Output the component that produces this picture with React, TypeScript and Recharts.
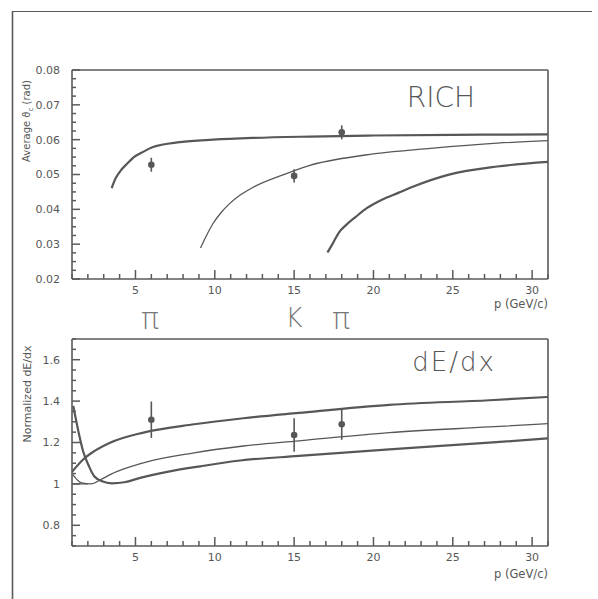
import React from 'react';
import { ComposedChart, Line, Scatter, ErrorBar, XAxis, YAxis } from 'recharts';

// momentum axis (GeV/c)
const pMajorTicks = [5, 10, 15, 20, 25, 30];
const pMinorTicks = Array.from({ length: 31 }, (_, i) => i + 1);

// RICH panel: average Cherenkov angle (rad)
const richMajorTicks = [0.02, 0.03, 0.04, 0.05, 0.06, 0.07, 0.08];
const richMinorTicks = Array.from({ length: 25 }, (_, i) => +(0.02 + i * 0.0025).toFixed(4));

const richPionP = [3.5, 3.75, 4.1, 4.5, 4.9, 5.4, 6.1, 7.8, 9.9, 12.4, 16, 20, 25, 31];
const richPionTheta = [0.0461, 0.0489, 0.0513, 0.0532, 0.055, 0.0563, 0.0579, 0.0593, 0.06, 0.0605, 0.0609, 0.0612, 0.0614, 0.0615];
const richKaonP = [9.1, 9.5, 9.9, 10.4, 10.9, 11.6, 12.4, 14.3, 15.9, 19.5, 23.6, 27.8, 31];
const richKaonTheta = [0.0289, 0.0327, 0.036, 0.0391, 0.0415, 0.0441, 0.0463, 0.0499, 0.0525, 0.0556, 0.0575, 0.059, 0.0597];
const richProtonP = [17.1, 17.45, 17.8, 18.3, 18.9, 19.6, 20.5, 21.6, 22.6, 24.7, 27.8, 31];
const richProtonTheta = [0.0276, 0.0303, 0.0332, 0.0356, 0.0379, 0.0404, 0.0427, 0.0448, 0.0467, 0.0499, 0.0523, 0.0536];

const richDataP = [6, 15, 18];
const richDataTheta = [0.0528, 0.0496, 0.0621];
const richDataErr = [0.002, 0.0019, 0.002];

// dE/dx panel: normalized energy loss
const dedxMajorTicks = [0.8, 1, 1.2, 1.4, 1.6];
const dedxMinorTicks = Array.from({ length: 21 }, (_, i) => +(0.7 + i * 0.05).toFixed(2));

const dedxPionP = [1.0, 1.7, 2.4, 3.4, 5.5, 8.7, 11.8, 15.3, 21, 27.3, 31];
const dedxPionVal = [1.058, 1.118, 1.158, 1.199, 1.248, 1.288, 1.317, 1.343, 1.382, 1.404, 1.42];
const dedxKaonP = [1.05, 1.6, 2.2, 2.8, 3.4, 5.5, 8.7, 11.8, 15.3, 21, 27.3, 31];
const dedxKaonVal = [1.045, 1.005, 1.0, 1.02, 1.045, 1.102, 1.15, 1.183, 1.208, 1.248, 1.275, 1.291];
const dedxProtonP = [1.08, 1.4, 1.7, 2.07, 2.4, 2.9, 3.5, 4.3, 5.3, 7.0, 9.1, 11.6, 15.3, 21, 27.3, 31];
const dedxProtonVal = [1.377, 1.255, 1.158, 1.085, 1.037, 1.013, 1.003, 1.008, 1.029, 1.058, 1.085, 1.113, 1.135, 1.167, 1.199, 1.22];
const dedxFlatP = [1.0, 2.0];
const dedxFlatVal = [1.0, 1.0];

const dedxDataP = [6, 15, 18];
const dedxDataVal = [1.31, 1.236, 1.288];
const dedxDataErr = [0.088, 0.081, 0.075];

const zip = (xs: number[], ys: number[]) => xs.map((x, i) => ({ x, y: ys[i] }));
const zipErr = (xs: number[], ys: number[], es: number[]) => xs.map((x, i) => ({ x, y: ys[i], err: es[i] }));

const AXIS = '#5a5a5a';
const INK = '#575757';
const FONT = '"DejaVu Sans", sans-serif';

const isIn = (list: number[], v: number) => list.some((m) => Math.abs(m - v) < 1e-9);

// ticks point into the plot, labels sit outside
const XTick = (props: any) => {
  const { x, y, payload } = props;
  const v = payload.value;
  const major = isIn(pMajorTicks, v);
  return (
    <g>
      <line x1={x} x2={x} y1={y} y2={y - (major ? 9 : 5)} stroke={AXIS} strokeWidth={1.5} />
      {major && (
        <text x={x} y={y + 11} dy="0.35em" textAnchor="middle" fontSize={11} fill={INK} fontFamily={FONT}>
          {v}
        </text>
      )}
    </g>
  );
};

const makeYTick = (majors: number[], fmt: (v: number) => string) => (props: any) => {
  const { x, y, payload } = props;
  const v = payload.value;
  const major = isIn(majors, v);
  return (
    <g>
      <line x1={x} x2={x + (major ? 8 : 4)} y1={y} y2={y} stroke={AXIS} strokeWidth={1.5} />
      {major && (
        <text x={x - 12} y={y} dy="0.35em" textAnchor="end" fontSize={11} fill={INK} fontFamily={FONT}>
          {fmt(v)}
        </text>
      )}
    </g>
  );
};

interface Curve { data: { x: number; y: number }[]; width: number }

interface PanelProps {
  top: number;
  height: number;
  margin: { top: number; right: number; bottom: number; left: number };
  yDomain: [number, number];
  yMinor: number[];
  yMajor: number[];
  yFmt: (v: number) => string;
  curves: Curve[];
  points: { x: number; y: number; err: number }[];
}

const frameAxis = { stroke: AXIS, strokeWidth: 1.6 };

const Panel = ({ top, height, margin, yDomain, yMinor, yMajor, yFmt, curves, points }: PanelProps) => (
  <div style={{ position: 'absolute', left: 0, top }}>
    <ComposedChart width={598} height={height} margin={margin}>
      <XAxis
        xAxisId="p"
        type="number"
        dataKey="x"
        domain={[1, 31]}
        allowDataOverflow
        ticks={pMinorTicks}
        interval={0}
        tickSize={0}
        tickMargin={0}
        tickLine={false}
        tick={<XTick />}
        height={30}
        axisLine={frameAxis}
      />
      <XAxis
        xAxisId="top"
        orientation="top"
        type="number"
        domain={[1, 31]}
        allowDataOverflow
        ticks={pMajorTicks}
        mirror
        height={1}
        tick={false}
        tickLine={false}
        axisLine={frameAxis}
      />
      <YAxis
        yAxisId="v"
        type="number"
        dataKey="y"
        domain={yDomain}
        allowDataOverflow
        ticks={yMinor}
        interval={0}
        tickSize={0}
        tickMargin={0}
        tickLine={false}
        tick={makeYTick(yMajor, yFmt)}
        width={52}
        axisLine={frameAxis}
      />
      <YAxis
        yAxisId="right"
        orientation="right"
        type="number"
        domain={yDomain}
        allowDataOverflow
        ticks={yMajor}
        mirror
        width={1}
        tick={false}
        tickLine={false}
        axisLine={frameAxis}
      />
      {curves.map((c, i) => (
        <Line
          key={i}
          xAxisId="p"
          yAxisId="v"
          data={c.data}
          dataKey="y"
          type="monotone"
          stroke={INK}
          strokeWidth={c.width}
          dot={false}
          activeDot={false}
          isAnimationActive={false}
        />
      ))}
      <Scatter
        xAxisId="p"
        yAxisId="v"
        data={points}
        dataKey="y"
        fill={INK}
        shape={(p: any) => <circle cx={p.cx} cy={p.cy} r={3.3} fill={INK} />}
        isAnimationActive={false}
      >
        <ErrorBar dataKey="err" direction="y" width={0} stroke={INK} strokeWidth={1.6} isAnimationActive={false} />
      </Scatter>
    </ComposedChart>
  </div>
);

export default function App() {
  return (
    <div style={{ position: 'absolute', left: 0, top: 0, width: 598, height: 599, background: '#fff', overflow: 'hidden' }}>
      <Panel
        top={0}
        height={320}
        margin={{ top: 70, right: 50, bottom: 11, left: 20 }}
        yDomain={[0.02, 0.08]}
        yMinor={richMinorTicks}
        yMajor={richMajorTicks}
        yFmt={(v) => v.toFixed(2)}
        curves={[
          { data: zip(richPionP, richPionTheta), width: 2.2 },
          { data: zip(richKaonP, richKaonTheta), width: 1.3 },
          { data: zip(richProtonP, richProtonTheta), width: 2.2 },
        ]}
        points={zipErr(richDataP, richDataTheta, richDataErr)}
      />
      <Panel
        top={300}
        height={299}
        margin={{ top: 39, right: 50, bottom: 23, left: 20 }}
        yDomain={[0.7, 1.7]}
        yMinor={dedxMinorTicks}
        yMajor={dedxMajorTicks}
        yFmt={(v) => String(v)}
        curves={[
          { data: zip(dedxPionP, dedxPionVal), width: 2.2 },
          { data: zip(dedxKaonP, dedxKaonVal), width: 1.3 },
          { data: zip(dedxProtonP, dedxProtonVal), width: 2.2 },
          { data: zip(dedxFlatP, dedxFlatVal), width: 1.3 },
        ]}
        points={zipErr(dedxDataP, dedxDataVal, dedxDataErr)}
      />
      <svg width={598} height={599} style={{ position: 'absolute', left: 0, top: 0, pointerEvents: 'none' }}>
        <line x1={12.5} y1={11} x2={12.5} y2={599} stroke={AXIS} strokeWidth={1.6} />
        <line x1={12} y1={11.5} x2={592} y2={11.5} stroke={AXIS} strokeWidth={1.2} />
        <text x={441} y={97} dy="0.35em" textAnchor="middle" fontSize={28} fontWeight={200} fill={INK} fontFamily={FONT}>
          RICH
        </text>
        <text x={454} y={362} dy="0.35em" textAnchor="middle" fontSize={26} fontWeight={200} letterSpacing={2} fill={INK} fontFamily={FONT}>
          dE/dx
        </text>
        <text transform="translate(30,121) rotate(-90)" textAnchor="middle" fontSize={10} fill={INK} fontFamily={FONT}>
          Average ϑ<tspan fontSize={7} dy={3}>c</tspan><tspan dy={-3}> (rad)</tspan>
        </text>
        <text transform="translate(31,394) rotate(-90)" textAnchor="middle" fontSize={11} fill={INK} fontFamily={FONT}>
          Normalized dE/dx
        </text>
        <text x={548} y={304} dy="0.35em" textAnchor="end" fontSize={11.5} fill={INK} fontFamily={FONT}>
          p (GeV/c)
        </text>
        <text x={548} y={574} dy="0.35em" textAnchor="end" fontSize={11.5} fill={INK} fontFamily={FONT}>
          p (GeV/c)
        </text>
        <text x={150} y={318} dy="0.35em" textAnchor="middle" fontSize={30} fontWeight={200} fill="#777" fontFamily={FONT}>
          π
        </text>
        <text x={294} y={318} dy="0.35em" textAnchor="middle" fontSize={26} fontWeight={200} fill="#777" fontFamily={FONT}>
          K
        </text>
        <text x={341} y={318} dy="0.35em" textAnchor="middle" fontSize={30} fontWeight={200} fill="#777" fontFamily={FONT}>
          π
        </text>
      </svg>
    </div>
  );
}
